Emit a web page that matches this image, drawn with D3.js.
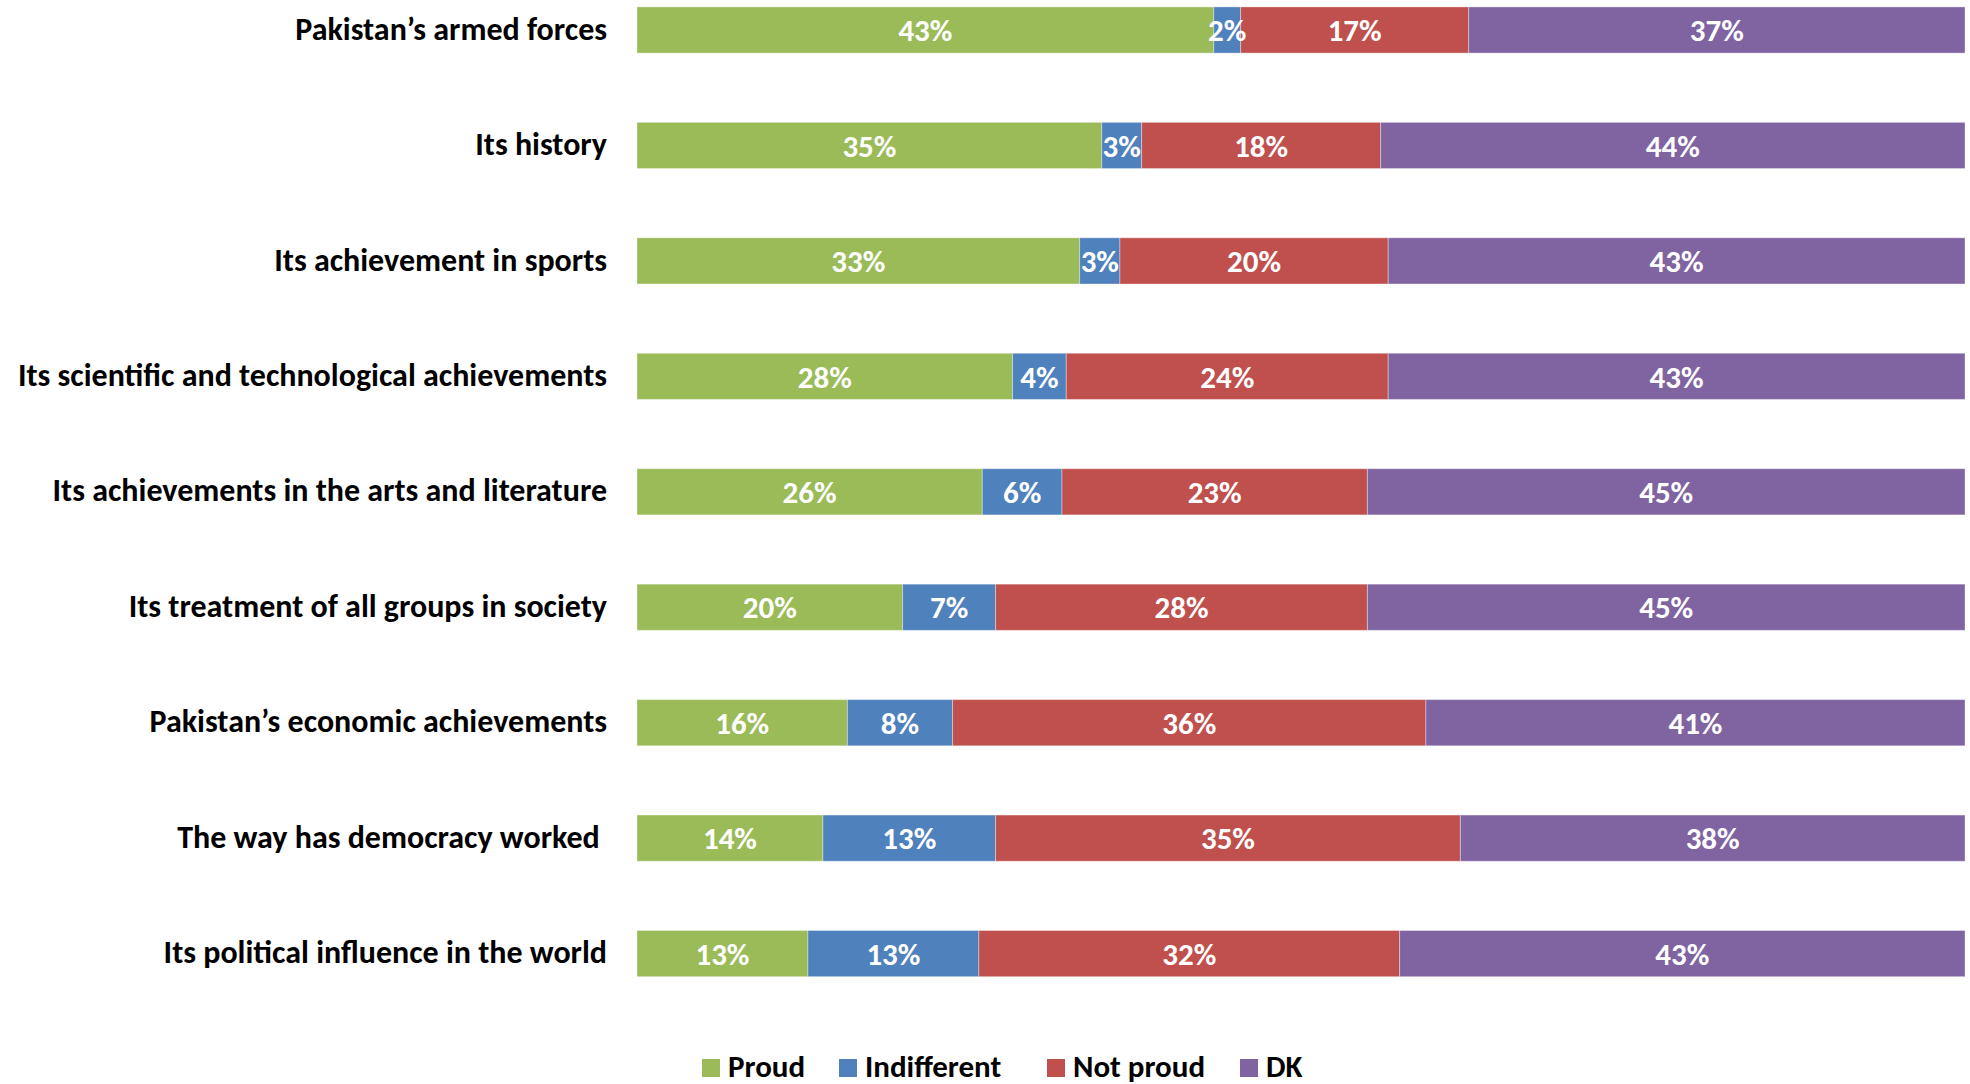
<!DOCTYPE html>
<html>
<head>
<meta charset="utf-8">
<script src="https://cdn.jsdelivr.net/npm/d3@7"></script>
<style>
  html, body { margin: 0; padding: 0; background: #fff; }
  svg { display: block; }
  text { font-family: Carlito, Lato, "Open Sans", sans-serif; font-weight: bold; white-space: pre; }
</style>
</head>
<body>
<svg id="chart" width="1970" height="1084"></svg>
<script>
const categories = [
  "Pakistan\u2019s armed forces",
  "Its history",
  "Its achievement in sports",
  "Its scientific and technological achievements",
  "Its achievements in the arts and literature",
  "Its treatment of all groups in society",
  "Pakistan\u2019s economic achievements",
  "The way has democracy worked ",
  "Its political influence in the world"
];
const seriesNames = ["Proud", "Indifferent", "Not proud", "DK"];
const proud       = [43, 35, 33, 28, 26, 20, 16, 14, 13];
const indifferent = [2, 3, 3, 4, 6, 7, 8, 13, 13];
const notProud    = [17, 18, 20, 24, 23, 28, 36, 35, 32];
const dk          = [37, 44, 43, 43, 45, 45, 41, 38, 43];
const colors = ["#9BBB59", "#4F81BD", "#C0504D", "#8064A2"];

const table = categories.map((c, i) => ({
  category: c,
  "Proud": proud[i],
  "Indifferent": indifferent[i],
  "Not proud": notProud[i],
  "DK": dk[i]
}));

const svg = d3.select("#chart");
const x = d3.scaleLinear().domain([0, 1]).range([637, 1965]);
const step = 115.45;
const r0 = 30 - step / 2;
const y = d3.scaleBand().domain(categories).range([r0, r0 + 9 * step]).paddingInner(0.6).paddingOuter(0.3);
const color = d3.scaleOrdinal().domain(seriesNames).range(colors);

const stacked = d3.stack().keys(seriesNames).offset(d3.stackOffsetExpand)(table);
stacked.forEach(s => s.forEach(p => { p.key = s.key; }));

svg.append("g").selectAll("g").data(stacked).join("g")
  .attr("fill", d => color(d.key))
  .selectAll("rect").data(d => d).join("rect")
  .attr("x", d => x(d[0]))
  .attr("y", d => y(d.data.category))
  .attr("width", d => x(d[1]) - x(d[0]))
  .attr("height", y.bandwidth())
  .attr("stroke", "rgba(255,255,255,0.35)")
  .attr("stroke-width", 1);

svg.append("g").selectAll("g").data(stacked).join("g")
  .selectAll("text").data(d => d).join("text")
  .attr("x", d => (x(d[0]) + x(d[1])) / 2)
  .attr("y", d => y(d.data.category) + y.bandwidth() / 2)
  .attr("dy", "0.36em")
  .attr("text-anchor", "middle")
  .attr("fill", "#fff")
  .attr("font-size", 31)
  .text(d => d.data[d.key] + "%");

const yAxis = d3.axisLeft(y).tickSize(0).tickPadding(30);
const ag = svg.append("g").attr("transform", "translate(637,0)").call(yAxis);
ag.select(".domain").remove();
ag.selectAll("text")
  .attr("fill", "#000")
  .attr("font-size", 32)
  .attr("dy", "0.3em")
  .style("font-family", "Carlito, Lato, 'Open Sans', sans-serif")
  .style("font-weight", "bold");

// legend
const legendX = [702, 839, 1047, 1240];
const lg = svg.append("g").selectAll("g").data(seriesNames).join("g")
  .attr("transform", (d, i) => `translate(${legendX[i]},1059)`);
lg.append("rect").attr("width", 18).attr("height", 18).attr("fill", d => color(d));
lg.append("text").attr("x", 26).attr("y", 18)
  .attr("font-size", 31).attr("fill", "#000").text(d => d);
</script>
</body>
</html>
